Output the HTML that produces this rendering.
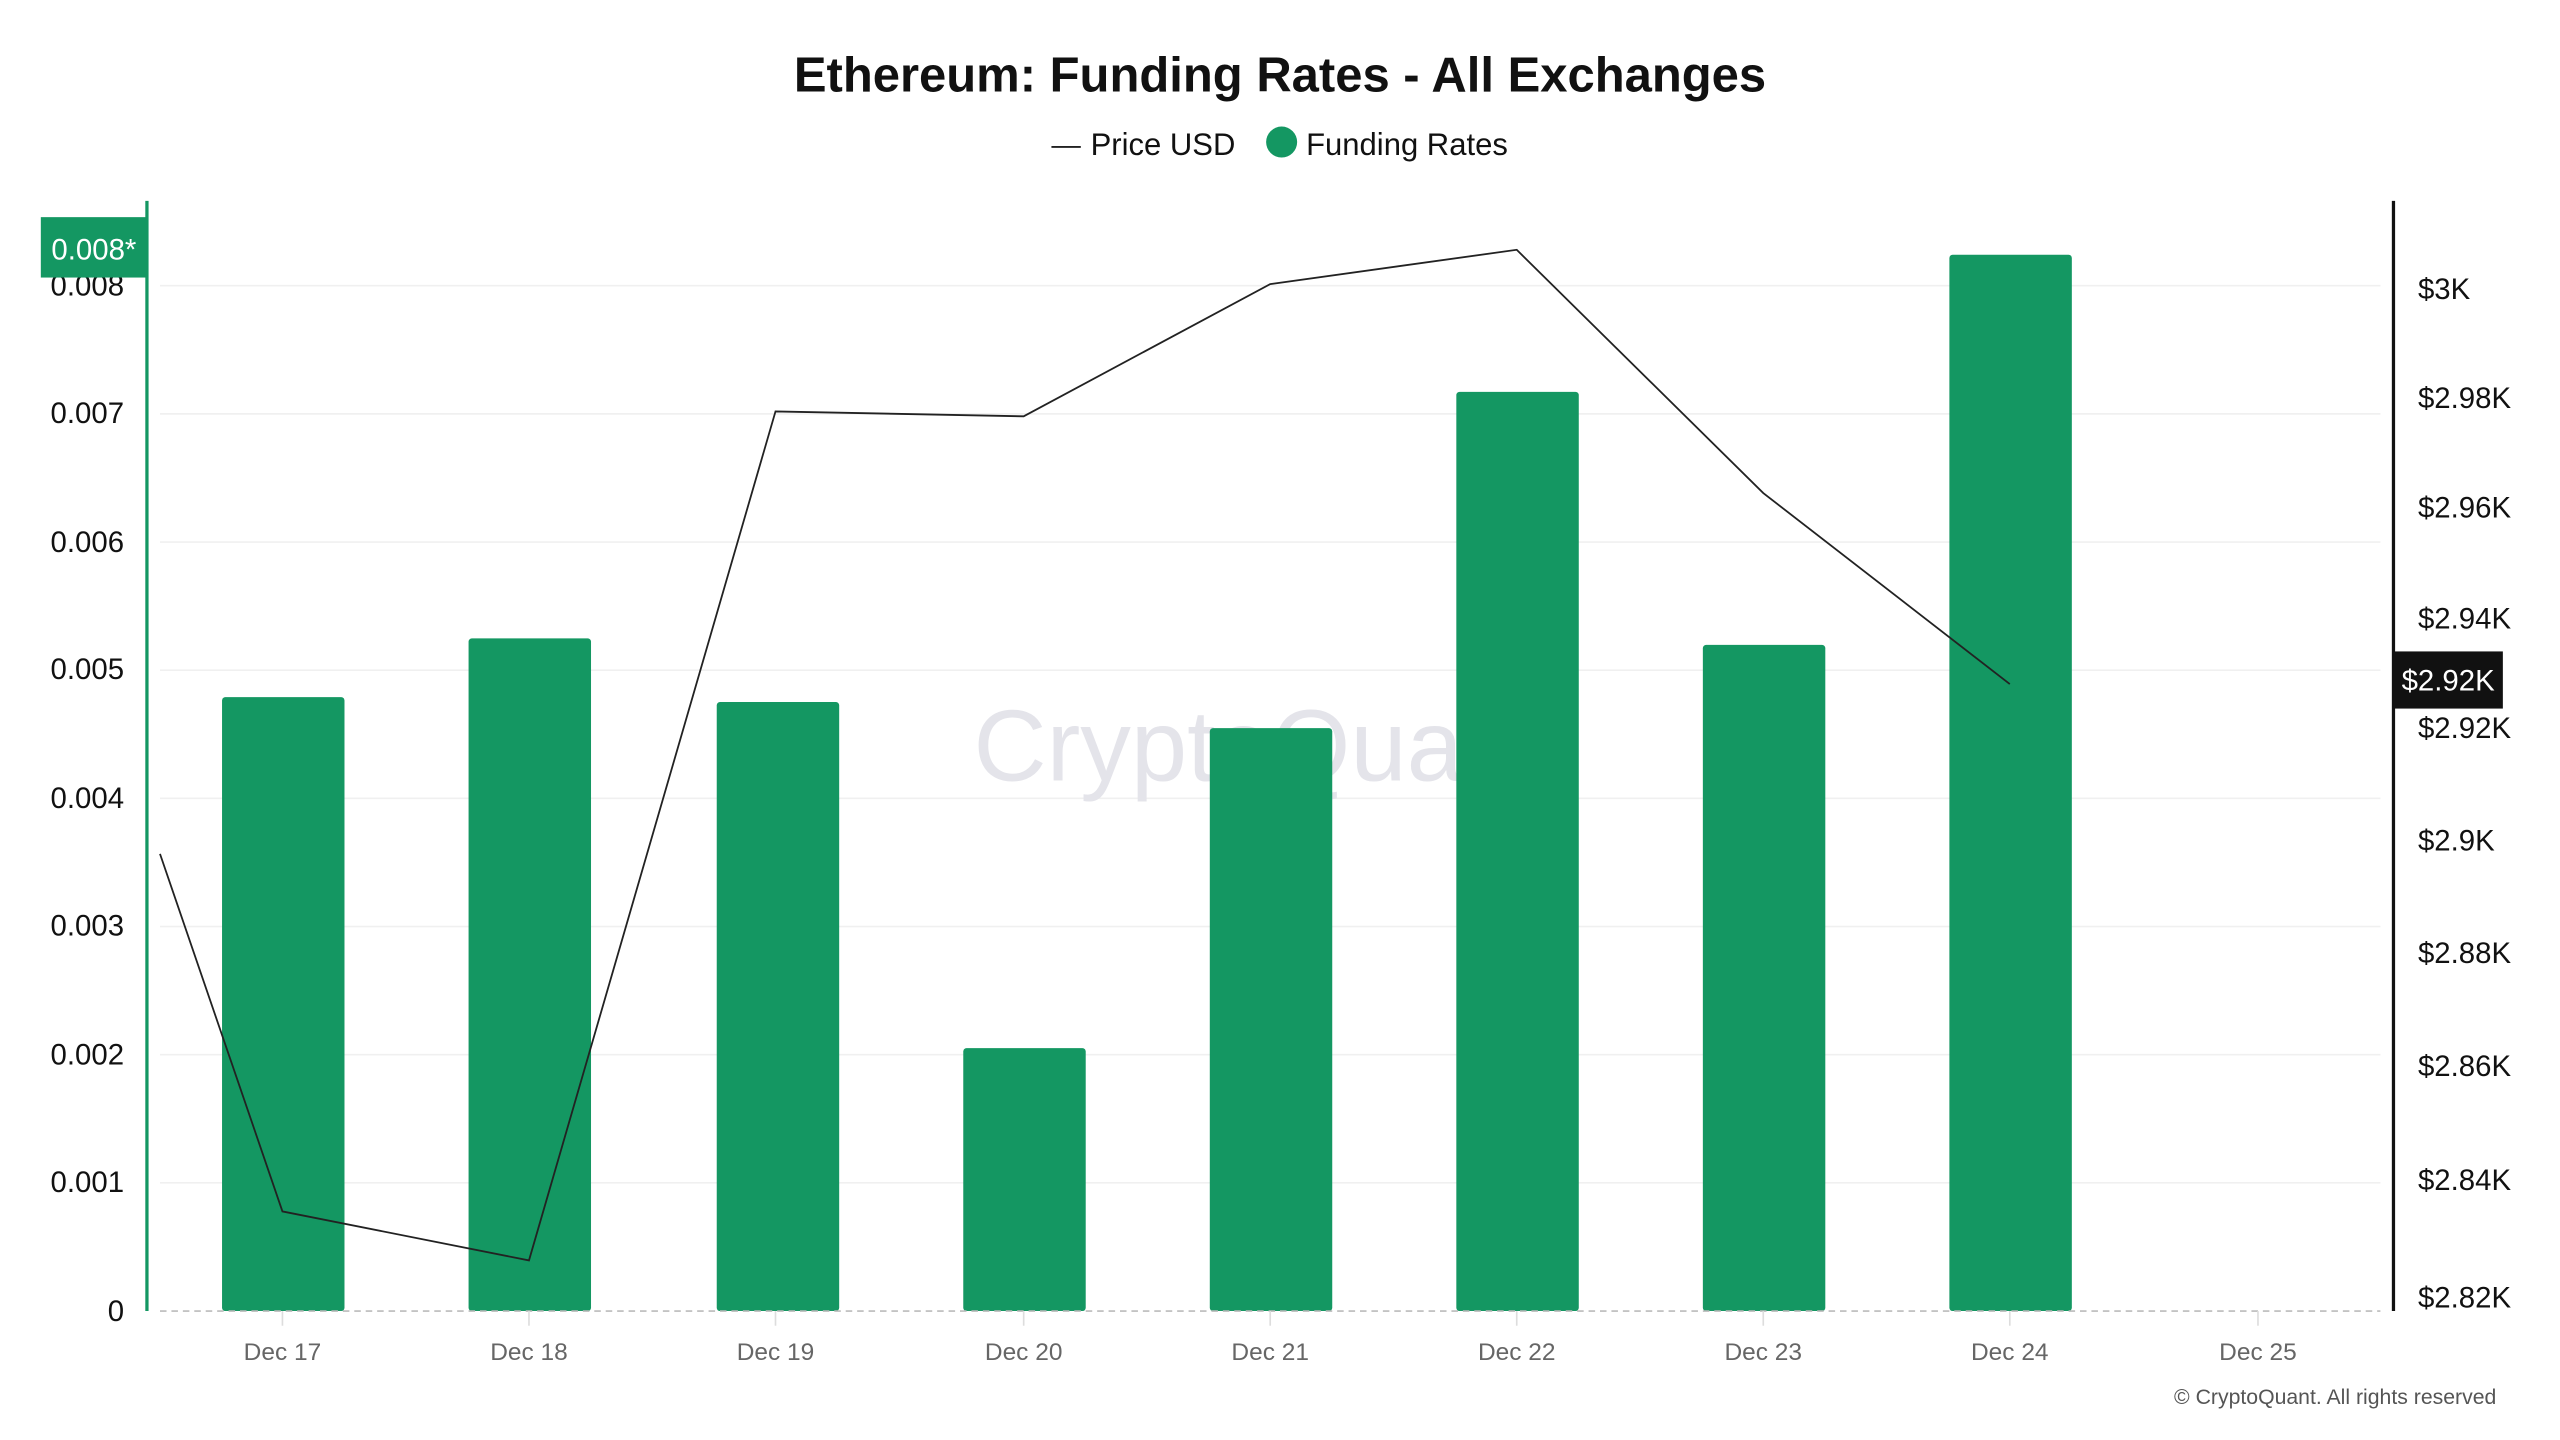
<!DOCTYPE html>
<html><head><meta charset="utf-8"><style>
html,body{margin:0;padding:0;background:#fff;}
svg{display:block;}
text{font-family:"Liberation Sans",sans-serif;}
</style></head><body>
<svg width="2560" height="1440" viewBox="0 0 1568 882" xmlns="http://www.w3.org/2000/svg">
<rect width="1568" height="882" fill="#fff"/>
<text x="784" y="56" text-anchor="middle" font-size="30" font-weight="bold" fill="#111">Ethereum: Funding Rates - All Exchanges</text>
<line x1="644" y1="90" x2="662" y2="90" stroke="#222" stroke-width="1.2"/>
<text x="668" y="95" font-size="19" fill="#111">Price USD</text>
<circle cx="785" cy="87" r="9.5" fill="#149762"/>
<text x="800" y="95" font-size="19" fill="#111">Funding Rates</text>
<g stroke="#f0f0f0" stroke-width="1">
<line x1="98" y1="175" x2="1458" y2="175"/>
<line x1="98" y1="253.5" x2="1458" y2="253.5"/>
<line x1="98" y1="332" x2="1458" y2="332"/>
<line x1="98" y1="410.5" x2="1458" y2="410.5"/>
<line x1="98" y1="489" x2="1458" y2="489"/>
<line x1="98" y1="567.5" x2="1458" y2="567.5"/>
<line x1="98" y1="646" x2="1458" y2="646"/>
<line x1="98" y1="724.5" x2="1458" y2="724.5"/>
</g>
<text x="772" y="478" text-anchor="middle" font-size="62" fill="#e4e4ea">CryptoQuant</text>
<g fill="#149762">
<rect x="136" y="427" width="75" height="376" rx="2"/>
<rect x="287" y="391" width="75" height="412" rx="2"/>
<rect x="439" y="430" width="75" height="373" rx="2"/>
<rect x="590" y="642" width="75" height="161" rx="2"/>
<rect x="741" y="446" width="75" height="357" rx="2"/>
<rect x="892" y="240" width="75" height="563" rx="2"/>
<rect x="1043" y="395" width="75" height="408" rx="2"/>
<rect x="1194" y="156" width="75" height="647" rx="2"/>
</g>
<line x1="98" y1="803" x2="1458" y2="803" stroke="#bbb" stroke-width="1" stroke-dasharray="4,3"/>
<polyline fill="none" stroke="#222" stroke-width="1.1" points="98,523 173,742 324,772 475,252 627,255 778,174 929,153 1080,302 1231,419"/>
<line x1="90" y1="123" x2="90" y2="803" stroke="#149762" stroke-width="2"/>
<line x1="1466" y1="123" x2="1466" y2="803" stroke="#111" stroke-width="2"/>
<g font-size="18" fill="#111" text-anchor="end">
<text x="76" y="181">0.008</text>
<text x="76" y="259">0.007</text>
<text x="76" y="338">0.006</text>
<text x="76" y="416">0.005</text>
<text x="76" y="495">0.004</text>
<text x="76" y="573">0.003</text>
<text x="76" y="652">0.002</text>
<text x="76" y="730">0.001</text>
<text x="76" y="809">0</text>
</g>
<rect x="25" y="133" width="65" height="37" fill="#149762"/>
<text x="57.5" y="159" text-anchor="middle" font-size="18" fill="#fff">0.008*</text>
<g font-size="18" fill="#111">
<text x="1481" y="183">$3K</text>
<text x="1481" y="250">$2.98K</text>
<text x="1481" y="317">$2.96K</text>
<text x="1481" y="385">$2.94K</text>
<text x="1481" y="452">$2.92K</text>
<text x="1481" y="521">$2.9K</text>
<text x="1481" y="590">$2.88K</text>
<text x="1481" y="659">$2.86K</text>
<text x="1481" y="729">$2.84K</text>
<text x="1481" y="801">$2.82K</text>
</g>
<rect x="1466" y="399" width="67" height="35" fill="#111"/>
<text x="1499.5" y="423" text-anchor="middle" font-size="18" fill="#fff">$2.92K</text>
<g stroke="#ddd" stroke-width="1">
<line x1="173" y1="803" x2="173" y2="812"/><line x1="324" y1="803" x2="324" y2="812"/>
<line x1="475" y1="803" x2="475" y2="812"/><line x1="627" y1="803" x2="627" y2="812"/>
<line x1="778" y1="803" x2="778" y2="812"/><line x1="929" y1="803" x2="929" y2="812"/>
<line x1="1080" y1="803" x2="1080" y2="812"/><line x1="1231" y1="803" x2="1231" y2="812"/>
<line x1="1383" y1="803" x2="1383" y2="812"/>
</g>
<g font-size="15" fill="#666" text-anchor="middle">
<text x="173" y="833">Dec 17</text><text x="324" y="833">Dec 18</text>
<text x="475" y="833">Dec 19</text><text x="627" y="833">Dec 20</text>
<text x="778" y="833">Dec 21</text><text x="929" y="833">Dec 22</text>
<text x="1080" y="833">Dec 23</text><text x="1231" y="833">Dec 24</text>
<text x="1383" y="833">Dec 25</text>
</g>
<text x="1529" y="860" text-anchor="end" font-size="13" fill="#555">© CryptoQuant. All rights reserved</text>
</svg>
</body></html>
